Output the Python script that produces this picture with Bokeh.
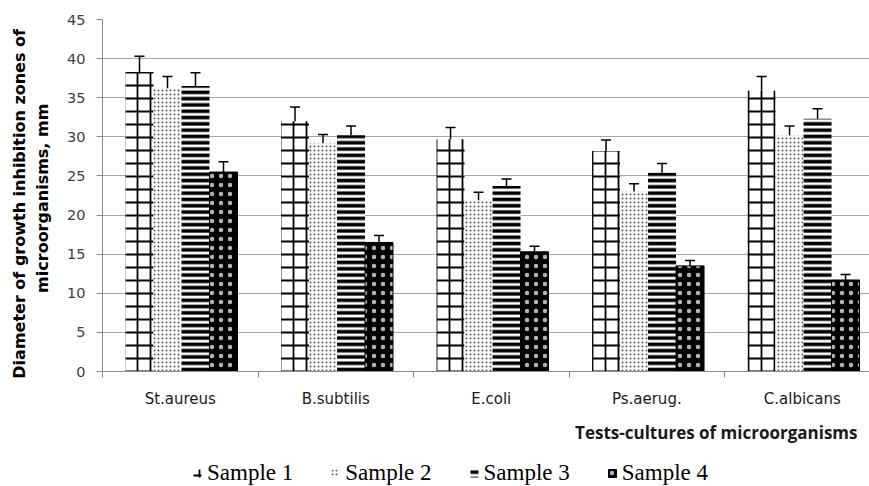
from bokeh.plotting import figure
from bokeh.models import (ColumnDataSource, Whisker, TeeHead, FixedTicker, Range1d,
                          Legend, LegendItem, Title)
from bokeh.layouts import column
from bokeh.embed import file_html
from bokeh.resources import INLINE

categories = ["St.aureus", "B.subtilis", "E.coli", "Ps.aerug.", "C.albicans"]
series = ["Sample 1", "Sample 2", "Sample 3", "Sample 4"]
sample1 = [38.3, 32.0, 29.7, 28.2, 35.9]
sample1_err = [2.0, 1.8, 1.5, 1.4, 1.8]
sample2 = [36.2, 29.2, 21.9, 23.0, 30.2]
sample2_err = [1.5, 1.1, 1.0, 1.0, 1.2]
sample3 = [36.5, 30.2, 23.7, 25.4, 32.3]
sample3_err = [1.7, 1.2, 0.9, 1.2, 1.3]
sample4 = [25.5, 16.5, 15.3, 13.5, 11.7]
sample4_err = [1.3, 0.9, 0.7, 0.7, 0.7]
y_ticks = [0, 5, 10, 15, 20, 25, 30, 35, 40, 45]

values = [sample1, sample2, sample3, sample4]
errors = [sample1_err, sample2_err, sample3_err, sample4_err]
offsets = [-0.262, -0.082, 0.098, 0.278]
bar_w = 0.18

styles = [
    dict(fill_color="white", line_color=None, hatch_pattern="cross", hatch_color="black",
         hatch_scale=13, hatch_weight=1.8),
    dict(fill_color="white", line_color=None, hatch_pattern="dot", hatch_color="#555555",
         hatch_scale=4, hatch_weight=0.7),
    dict(fill_color="white", line_color=None, hatch_pattern="horizontal_line", hatch_color="black",
         hatch_scale=6.3, hatch_weight=3.6),
    dict(fill_color="black", line_color="black", hatch_pattern="dot", hatch_color="white",
         hatch_scale=9, hatch_weight=0.3, hatch_alpha=0.7),
]

FONT = "DejaVu Sans"
W = 869

p = figure(width=W, height=452, output_backend="svg", toolbar_location=None,
           x_range=Range1d(0, 4.932), y_range=Range1d(0, 45),
           min_border_left=102, min_border_right=0, min_border_top=19, min_border_bottom=80)
p.outline_line_color = None
p.background_fill_color = "white"
p.xgrid.grid_line_color = None
p.ygrid.grid_line_color = "#a6a6a6"
p.ygrid.grid_line_width = 1
p.ygrid.ticker = FixedTicker(ticks=y_ticks)

for i, (vals, errs, st) in enumerate(zip(values, errors, styles)):
    xs = [k + 0.5 + offsets[i] for k in range(len(categories))]
    src = ColumnDataSource(dict(x=xs, top=vals, lo=[v - e for v, e in zip(vals, errs)],
                                hi=[v + e for v, e in zip(vals, errs)]))
    p.vbar(x="x", top="top", width=bar_w, bottom=0, source=src, **st)
    w = Whisker(source=src, base="x", upper="hi", lower="lo", dimension="height",
                line_color="black", line_width=1.5,
                upper_head=TeeHead(size=10, line_color="black", line_width=1.5),
                lower_head=TeeHead(size=10, line_color="black", line_width=1.5))
    p.add_layout(w)

# y axis
p.yaxis.ticker = FixedTicker(ticks=y_ticks)
p.yaxis.axis_line_color = "#8c8c8c"
p.yaxis.major_tick_line_color = "#8c8c8c"
p.yaxis.major_tick_out = 6
p.yaxis.major_tick_in = 0
p.yaxis.minor_tick_line_color = None
p.yaxis.major_label_text_font = FONT
p.yaxis.major_label_text_font_size = "14.5px"
p.yaxis.major_label_text_color = "#404040"
p.yaxis.major_label_standoff = 11
p.yaxis.axis_label = "Diameter  of  growth inhibition  zones of\nmicroorganisms,  mm"
p.yaxis.axis_label_text_font = "DejaVu Sans"
p.yaxis.axis_label_text_font_style = "bold"
p.yaxis.axis_label_text_font_size = "16px"
p.yaxis.axis_label_text_color = "black"
p.yaxis.axis_label_standoff = 12

# x axis
p.xaxis.ticker = FixedTicker(ticks=[k + 0.5 for k in range(len(categories))],
                             minor_ticks=list(range(len(categories) + 1)))
p.xaxis.major_label_overrides = {k + 0.5: c for k, c in enumerate(categories)}
p.xaxis.axis_line_color = "#8c8c8c"
p.xaxis.major_tick_line_color = None
p.xaxis.minor_tick_line_color = "#8c8c8c"
p.xaxis.minor_tick_out = 6
p.xaxis.minor_tick_in = 0
p.xaxis.major_label_text_font = FONT
p.xaxis.major_label_text_font_size = "15px"
p.xaxis.major_label_text_color = "#1a1a1a"
p.xaxis.major_label_standoff = 12

xt = Title(text="Tests-cultures of microorganisms", align="right", text_font="Open Sans",
           text_font_size="17px", text_font_style="bold", text_color="#1a1a1a",
           offset=12, standoff=17)
p.add_layout(xt, "below")

# legend strip
lf = figure(width=W, height=34, output_backend="svg", toolbar_location=None,
            x_range=Range1d(0, 1), y_range=Range1d(0, 1),
            min_border_left=0, min_border_right=0, min_border_top=0, min_border_bottom=0)
lf.axis.visible = False
lf.grid.visible = False
lf.outline_line_color = None
leg_renderers = []
for st in styles:
    leg_renderers.append(lf.vbar(x=[5], top=[1], width=0.1, **st))
legend = Legend(items=[LegendItem(label=s, renderers=[r]) for s, r in zip(series, leg_renderers)],
                orientation="horizontal", location=(90, 0),
                label_text_font="Liberation Serif", label_text_font_size="23px",
                label_text_color="black",
                glyph_width=10, glyph_height=10, spacing=37, padding=0, margin=0,
                border_line_color=None, background_fill_alpha=0, label_standoff=5)
lf.add_layout(legend, "center")

open("out.html", "w").write(file_html(column(p, lf), INLINE))
